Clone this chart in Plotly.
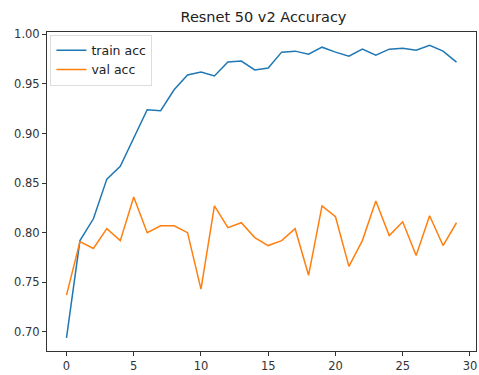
import plotly.graph_objects as go

epochs = list(range(30))
train_acc = [0.694, 0.792, 0.814, 0.854, 0.867, 0.896, 0.924, 0.923, 0.944, 0.959,
             0.962, 0.958, 0.972, 0.973, 0.964, 0.966, 0.982, 0.983, 0.980, 0.987,
             0.982, 0.978, 0.985, 0.979, 0.985, 0.986, 0.984, 0.989, 0.983, 0.972]
val_acc = [0.737, 0.791, 0.784, 0.804, 0.792, 0.836, 0.800, 0.807, 0.807, 0.800,
           0.743, 0.827, 0.805, 0.810, 0.795, 0.787, 0.792, 0.804, 0.757, 0.827,
           0.816, 0.766, 0.792, 0.832, 0.797, 0.811, 0.777, 0.817, 0.787, 0.810]
x_ticks = [0, 5, 10, 15, 20, 25, 30]
y_ticks = [0.70, 0.75, 0.80, 0.85, 0.90, 0.95, 1.00]

FONT = "DejaVu Sans"

fig = go.Figure()
fig.add_trace(go.Scatter(x=epochs, y=train_acc, mode="lines", name="train acc",
                         line=dict(color="#1f77b4", width=1.5)))
fig.add_trace(go.Scatter(x=epochs, y=val_acc, mode="lines", name="val acc",
                         line=dict(color="#ff7f0e", width=1.5)))

axis_common = dict(showgrid=False, zeroline=False, showline=True, linecolor="#333",
                   linewidth=1, mirror=True, ticks="outside", ticklen=4,
                   tickcolor="#333", tickfont=dict(family=FONT, size=11.5, color="#333"))

fig.update_layout(
    width=479, height=375,
    margin=dict(l=47, r=2, t=32, b=22),
    paper_bgcolor="white", plot_bgcolor="white",
    title=dict(text="Resnet 50 v2 Accuracy", x=0.55, xanchor="center", y=0.955,
               yanchor="middle", font=dict(family=FONT, size=14.5, color="#222")),
    xaxis=dict(range=[-1.45, 30.45], tickvals=x_ticks, ticktext=[str(t) for t in x_ticks],
               **axis_common),
    yaxis=dict(range=[0.6807, 1.0023], tickvals=y_ticks,
               ticktext=[f"{t:.2f}" for t in y_ticks], **axis_common),
    legend=dict(x=0.008, y=0.992, xanchor="left", yanchor="top",
                bgcolor="white", bordercolor="#ddd", borderwidth=1,
                font=dict(family=FONT, size=12.5, color="#222"),
                tracegroupgap=0, itemwidth=30),
    showlegend=True,
)

fig.write_html("out.html")
